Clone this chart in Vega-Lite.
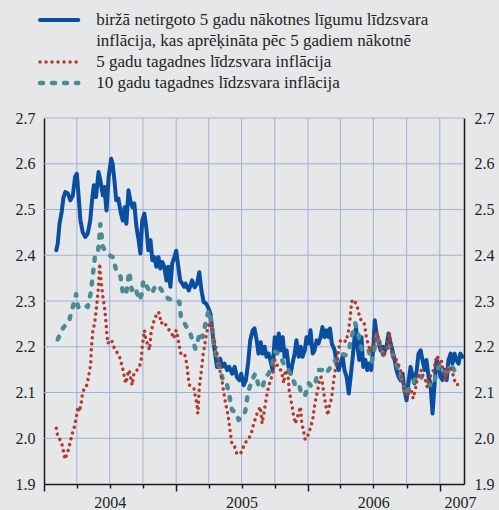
{
  "$schema": "https://vega.github.io/schema/vega-lite/v6.json",
  "width": 420,
  "height": 366,
  "autosize": {"type": "none"},
  "padding": {"left": 44, "top": 118, "right": 35, "bottom": 26},
  "background": "#e6e7e9",
  "config": {
    "view": {"stroke": null},
    "font": "Liberation Serif, Times New Roman, serif",
    "axis": {"labelFont": "Liberation Serif, Times New Roman, serif", "labelFontSize": 16, "labelColor": "#231f20", "domainColor": "#1a1a1a", "domainWidth": 1.5},
    "legend": {"labelFont": "Liberation Serif, Times New Roman, serif", "labelFontSize": 17, "labelColor": "#231f20", "labelLimit": 500, "padding": 0}
  },
  "resolve": {"axis": {"x": "independent", "y": "independent"}},
  "layer": [
    {
      "data": {"values": [{"level": 2.0}, {"level": 2.1}, {"level": 2.2}, {"level": 2.3}, {"level": 2.4}, {"level": 2.5}, {"level": 2.6}, {"level": 2.7}]},
      "mark": {"type": "rule", "color": "#a3aeda", "strokeWidth": 1},
      "encoding": {"y": {"field": "level", "type": "quantitative", "axis": null}}
    },
    {
      "data": {"values": [{"quarter": "2004-04-01"}, {"quarter": "2004-07-01"}, {"quarter": "2004-10-01"}, {"quarter": "2005-01-01"}, {"quarter": "2005-04-01"}, {"quarter": "2005-07-01"}, {"quarter": "2005-10-01"}, {"quarter": "2006-01-01"}, {"quarter": "2006-04-01"}, {"quarter": "2006-07-01"}, {"quarter": "2006-10-01"}, {"quarter": "2007-01-01"}]},
      "mark": {"type": "rule", "color": "#a3aeda", "strokeWidth": 1},
      "encoding": {"x": {"field": "quarter", "type": "temporal", "axis": null}}
    },
    {
      "data": {"values": [
        {"date":"2004-02-04","series":"fwd","value":2.411},{"date":"2004-02-08","series":"fwd","value":2.425},{"date":"2004-02-13","series":"fwd","value":2.469},{"date":"2004-02-19","series":"fwd","value":2.495},{"date":"2004-02-24","series":"fwd","value":2.527},{"date":"2004-02-29","series":"fwd","value":2.538},{"date":"2004-03-07","series":"fwd","value":2.535},{"date":"2004-03-14","series":"fwd","value":2.52},{"date":"2004-03-21","series":"fwd","value":2.531},{"date":"2004-03-27","series":"fwd","value":2.571},{"date":"2004-04-01","series":"fwd","value":2.578},{"date":"2004-04-06","series":"fwd","value":2.527},{"date":"2004-04-11","series":"fwd","value":2.476},{"date":"2004-04-17","series":"fwd","value":2.451},{"date":"2004-04-24","series":"fwd","value":2.44},{"date":"2004-05-01","series":"fwd","value":2.447},{"date":"2004-05-08","series":"fwd","value":2.476},{"date":"2004-05-13","series":"fwd","value":2.52},{"date":"2004-05-18","series":"fwd","value":2.553},{"date":"2004-05-24","series":"fwd","value":2.527},{"date":"2004-05-31","series":"fwd","value":2.582},{"date":"2004-06-05","series":"fwd","value":2.564},{"date":"2004-06-12","series":"fwd","value":2.531},{"date":"2004-06-16","series":"fwd","value":2.549},{"date":"2004-06-22","series":"fwd","value":2.498},{"date":"2004-06-28","series":"fwd","value":2.571},{"date":"2004-07-05","series":"fwd","value":2.611},{"date":"2004-07-09","series":"fwd","value":2.6},{"date":"2004-07-14","series":"fwd","value":2.564},{"date":"2004-07-19","series":"fwd","value":2.52},{"date":"2004-07-25","series":"fwd","value":2.524},{"date":"2004-07-31","series":"fwd","value":2.495},{"date":"2004-08-06","series":"fwd","value":2.476},{"date":"2004-08-11","series":"fwd","value":2.505},{"date":"2004-08-16","series":"fwd","value":2.469},{"date":"2004-08-22","series":"fwd","value":2.542},{"date":"2004-08-27","series":"fwd","value":2.52},{"date":"2004-09-02","series":"fwd","value":2.505},{"date":"2004-09-07","series":"fwd","value":2.513},{"date":"2004-09-13","series":"fwd","value":2.462},{"date":"2004-09-19","series":"fwd","value":2.433},{"date":"2004-09-24","series":"fwd","value":2.404},{"date":"2004-09-29","series":"fwd","value":2.476},{"date":"2004-10-05","series":"fwd","value":2.491},{"date":"2004-10-11","series":"fwd","value":2.455},{"date":"2004-10-16","series":"fwd","value":2.411},{"date":"2004-10-22","series":"fwd","value":2.433},{"date":"2004-10-27","series":"fwd","value":2.389},{"date":"2004-11-02","series":"fwd","value":2.396},{"date":"2004-11-07","series":"fwd","value":2.375},{"date":"2004-11-13","series":"fwd","value":2.396},{"date":"2004-11-18","series":"fwd","value":2.371},{"date":"2004-11-24","series":"fwd","value":2.385},{"date":"2004-11-29","series":"fwd","value":2.375},{"date":"2004-12-05","series":"fwd","value":2.345},{"date":"2004-12-10","series":"fwd","value":2.375},{"date":"2004-12-16","series":"fwd","value":2.331},{"date":"2004-12-21","series":"fwd","value":2.382},{"date":"2004-12-27","series":"fwd","value":2.396},{"date":"2005-01-01","series":"fwd","value":2.41},{"date":"2005-01-07","series":"fwd","value":2.375},{"date":"2005-01-12","series":"fwd","value":2.345},{"date":"2005-01-18","series":"fwd","value":2.338},{"date":"2005-01-23","series":"fwd","value":2.331},{"date":"2005-01-27","series":"fwd","value":2.338},{"date":"2005-02-05","series":"fwd","value":2.323},{"date":"2005-02-14","series":"fwd","value":2.345},{"date":"2005-02-21","series":"fwd","value":2.33},{"date":"2005-02-28","series":"fwd","value":2.338},{"date":"2005-03-06","series":"fwd","value":2.363},{"date":"2005-03-12","series":"fwd","value":2.323},{"date":"2005-03-18","series":"fwd","value":2.298},{"date":"2005-03-25","series":"fwd","value":2.294},{"date":"2005-03-30","series":"fwd","value":2.287},{"date":"2005-04-06","series":"fwd","value":2.272},{"date":"2005-04-10","series":"fwd","value":2.243},{"date":"2005-04-15","series":"fwd","value":2.207},{"date":"2005-04-20","series":"fwd","value":2.178},{"date":"2005-04-24","series":"fwd","value":2.156},{"date":"2005-04-29","series":"fwd","value":2.156},{"date":"2005-05-03","series":"fwd","value":2.174},{"date":"2005-05-08","series":"fwd","value":2.156},{"date":"2005-05-15","series":"fwd","value":2.163},{"date":"2005-05-22","series":"fwd","value":2.149},{"date":"2005-05-28","series":"fwd","value":2.156},{"date":"2005-06-05","series":"fwd","value":2.141},{"date":"2005-06-12","series":"fwd","value":2.156},{"date":"2005-06-18","series":"fwd","value":2.134},{"date":"2005-06-25","series":"fwd","value":2.127},{"date":"2005-06-30","series":"fwd","value":2.141},{"date":"2005-07-07","series":"fwd","value":2.116},{"date":"2005-07-13","series":"fwd","value":2.127},{"date":"2005-07-19","series":"fwd","value":2.163},{"date":"2005-07-25","series":"fwd","value":2.214},{"date":"2005-08-01","series":"fwd","value":2.236},{"date":"2005-08-06","series":"fwd","value":2.24},{"date":"2005-08-12","series":"fwd","value":2.214},{"date":"2005-08-17","series":"fwd","value":2.185},{"date":"2005-08-23","series":"fwd","value":2.21},{"date":"2005-08-28","series":"fwd","value":2.185},{"date":"2005-09-03","series":"fwd","value":2.2},{"date":"2005-09-08","series":"fwd","value":2.178},{"date":"2005-09-14","series":"fwd","value":2.185},{"date":"2005-09-19","series":"fwd","value":2.17},{"date":"2005-09-25","series":"fwd","value":2.149},{"date":"2005-10-01","series":"fwd","value":2.221},{"date":"2005-10-06","series":"fwd","value":2.185},{"date":"2005-10-12","series":"fwd","value":2.229},{"date":"2005-10-17","series":"fwd","value":2.192},{"date":"2005-10-23","series":"fwd","value":2.221},{"date":"2005-10-28","series":"fwd","value":2.178},{"date":"2005-11-03","series":"fwd","value":2.192},{"date":"2005-11-08","series":"fwd","value":2.156},{"date":"2005-11-14","series":"fwd","value":2.141},{"date":"2005-11-19","series":"fwd","value":2.163},{"date":"2005-11-25","series":"fwd","value":2.185},{"date":"2005-11-30","series":"fwd","value":2.214},{"date":"2005-12-06","series":"fwd","value":2.178},{"date":"2005-12-12","series":"fwd","value":2.2},{"date":"2005-12-17","series":"fwd","value":2.178},{"date":"2005-12-23","series":"fwd","value":2.192},{"date":"2005-12-28","series":"fwd","value":2.221},{"date":"2006-01-03","series":"fwd","value":2.207},{"date":"2006-01-08","series":"fwd","value":2.236},{"date":"2006-01-14","series":"fwd","value":2.185},{"date":"2006-01-19","series":"fwd","value":2.192},{"date":"2006-01-25","series":"fwd","value":2.214},{"date":"2006-01-30","series":"fwd","value":2.207},{"date":"2006-02-05","series":"fwd","value":2.221},{"date":"2006-02-10","series":"fwd","value":2.243},{"date":"2006-02-16","series":"fwd","value":2.221},{"date":"2006-02-21","series":"fwd","value":2.236},{"date":"2006-02-27","series":"fwd","value":2.221},{"date":"2006-03-03","series":"fwd","value":2.24},{"date":"2006-03-08","series":"fwd","value":2.207},{"date":"2006-03-16","series":"fwd","value":2.192},{"date":"2006-03-21","series":"fwd","value":2.163},{"date":"2006-03-27","series":"fwd","value":2.149},{"date":"2006-04-01","series":"fwd","value":2.163},{"date":"2006-04-07","series":"fwd","value":2.178},{"date":"2006-04-12","series":"fwd","value":2.149},{"date":"2006-04-18","series":"fwd","value":2.134},{"date":"2006-04-24","series":"fwd","value":2.098},{"date":"2006-04-29","series":"fwd","value":2.134},{"date":"2006-05-05","series":"fwd","value":2.178},{"date":"2006-05-10","series":"fwd","value":2.221},{"date":"2006-05-14","series":"fwd","value":2.243},{"date":"2006-05-18","series":"fwd","value":2.2},{"date":"2006-05-23","series":"fwd","value":2.171},{"date":"2006-05-29","series":"fwd","value":2.221},{"date":"2006-06-03","series":"fwd","value":2.156},{"date":"2006-06-09","series":"fwd","value":2.171},{"date":"2006-06-14","series":"fwd","value":2.149},{"date":"2006-06-20","series":"fwd","value":2.163},{"date":"2006-06-25","series":"fwd","value":2.149},{"date":"2006-07-01","series":"fwd","value":2.2},{"date":"2006-07-05","series":"fwd","value":2.258},{"date":"2006-07-10","series":"fwd","value":2.229},{"date":"2006-07-16","series":"fwd","value":2.207},{"date":"2006-07-21","series":"fwd","value":2.192},{"date":"2006-07-27","series":"fwd","value":2.2},{"date":"2006-08-01","series":"fwd","value":2.189},{"date":"2006-08-07","series":"fwd","value":2.203},{"date":"2006-08-12","series":"fwd","value":2.229},{"date":"2006-08-18","series":"fwd","value":2.207},{"date":"2006-08-23","series":"fwd","value":2.192},{"date":"2006-08-29","series":"fwd","value":2.171},{"date":"2006-09-03","series":"fwd","value":2.149},{"date":"2006-09-09","series":"fwd","value":2.134},{"date":"2006-09-14","series":"fwd","value":2.127},{"date":"2006-09-20","series":"fwd","value":2.141},{"date":"2006-09-25","series":"fwd","value":2.105},{"date":"2006-10-01","series":"fwd","value":2.083},{"date":"2006-10-07","series":"fwd","value":2.127},{"date":"2006-10-12","series":"fwd","value":2.156},{"date":"2006-10-18","series":"fwd","value":2.134},{"date":"2006-10-23","series":"fwd","value":2.12},{"date":"2006-10-29","series":"fwd","value":2.149},{"date":"2006-11-03","series":"fwd","value":2.185},{"date":"2006-11-09","series":"fwd","value":2.192},{"date":"2006-11-14","series":"fwd","value":2.171},{"date":"2006-11-20","series":"fwd","value":2.149},{"date":"2006-11-25","series":"fwd","value":2.171},{"date":"2006-12-01","series":"fwd","value":2.134},{"date":"2006-12-06","series":"fwd","value":2.12},{"date":"2006-12-12","series":"fwd","value":2.054},{"date":"2006-12-17","series":"fwd","value":2.112},{"date":"2006-12-23","series":"fwd","value":2.171},{"date":"2006-12-28","series":"fwd","value":2.163},{"date":"2007-01-03","series":"fwd","value":2.134},{"date":"2007-01-09","series":"fwd","value":2.127},{"date":"2007-01-14","series":"fwd","value":2.149},{"date":"2007-01-20","series":"fwd","value":2.127},{"date":"2007-01-25","series":"fwd","value":2.171},{"date":"2007-01-31","series":"fwd","value":2.185},{"date":"2007-02-05","series":"fwd","value":2.163},{"date":"2007-02-11","series":"fwd","value":2.185},{"date":"2007-02-16","series":"fwd","value":2.171},{"date":"2007-02-22","series":"fwd","value":2.163},{"date":"2007-02-27","series":"fwd","value":2.185},{"date":"2007-03-05","series":"fwd","value":2.178},
        {"date":"2004-02-08","series":"be10","value":2.216},{"date":"2004-02-22","series":"be10","value":2.24},{"date":"2004-03-11","series":"be10","value":2.258},{"date":"2004-03-30","series":"be10","value":2.315},{"date":"2004-04-04","series":"be10","value":2.287},{"date":"2004-04-13","series":"be10","value":2.287},{"date":"2004-04-22","series":"be10","value":2.291},{"date":"2004-05-01","series":"be10","value":2.287},{"date":"2004-05-10","series":"be10","value":2.32},{"date":"2004-05-15","series":"be10","value":2.356},{"date":"2004-05-21","series":"be10","value":2.396},{"date":"2004-05-29","series":"be10","value":2.404},{"date":"2004-06-02","series":"be10","value":2.433},{"date":"2004-06-05","series":"be10","value":2.468},{"date":"2004-06-12","series":"be10","value":2.418},{"date":"2004-06-21","series":"be10","value":2.407},{"date":"2004-06-30","series":"be10","value":2.4},{"date":"2004-07-09","series":"be10","value":2.396},{"date":"2004-07-19","series":"be10","value":2.367},{"date":"2004-07-31","series":"be10","value":2.353},{"date":"2004-08-06","series":"be10","value":2.32},{"date":"2004-08-15","series":"be10","value":2.313},{"date":"2004-08-24","series":"be10","value":2.364},{"date":"2004-08-31","series":"be10","value":2.324},{"date":"2004-09-09","series":"be10","value":2.331},{"date":"2004-09-21","series":"be10","value":2.302},{"date":"2004-09-28","series":"be10","value":2.316},{"date":"2004-10-02","series":"be10","value":2.345},{"date":"2004-10-12","series":"be10","value":2.331},{"date":"2004-10-25","series":"be10","value":2.316},{"date":"2004-11-06","series":"be10","value":2.335},{"date":"2004-11-15","series":"be10","value":2.331},{"date":"2004-11-25","series":"be10","value":2.32},{"date":"2004-12-10","series":"be10","value":2.305},{"date":"2004-12-27","series":"be10","value":2.302},{"date":"2005-01-10","series":"be10","value":2.298},{"date":"2005-01-14","series":"be10","value":2.265},{"date":"2005-01-27","series":"be10","value":2.247},{"date":"2005-02-09","series":"be10","value":2.229},{"date":"2005-02-23","series":"be10","value":2.196},{"date":"2005-03-09","series":"be10","value":2.232},{"date":"2005-03-15","series":"be10","value":2.221},{"date":"2005-03-23","series":"be10","value":2.25},{"date":"2005-04-01","series":"be10","value":2.28},{"date":"2005-04-08","series":"be10","value":2.258},{"date":"2005-04-15","series":"be10","value":2.207},{"date":"2005-04-24","series":"be10","value":2.174},{"date":"2005-05-03","series":"be10","value":2.149},{"date":"2005-05-13","series":"be10","value":2.12},{"date":"2005-05-22","series":"be10","value":2.116},{"date":"2005-05-28","series":"be10","value":2.094},{"date":"2005-06-05","series":"be10","value":2.061},{"date":"2005-06-14","series":"be10","value":2.058},{"date":"2005-06-23","series":"be10","value":2.04},{"date":"2005-07-02","series":"be10","value":2.047},{"date":"2005-07-11","series":"be10","value":2.058},{"date":"2005-07-19","series":"be10","value":2.101},{"date":"2005-07-30","series":"be10","value":2.127},{"date":"2005-08-08","series":"be10","value":2.141},{"date":"2005-08-17","series":"be10","value":2.116},{"date":"2005-08-27","series":"be10","value":2.109},{"date":"2005-09-05","series":"be10","value":2.134},{"date":"2005-09-14","series":"be10","value":2.141},{"date":"2005-09-23","series":"be10","value":2.156},{"date":"2005-10-02","series":"be10","value":2.189},{"date":"2005-10-12","series":"be10","value":2.185},{"date":"2005-10-21","series":"be10","value":2.171},{"date":"2005-10-30","series":"be10","value":2.156},{"date":"2005-11-08","series":"be10","value":2.149},{"date":"2005-11-17","series":"be10","value":2.134},{"date":"2005-11-27","series":"be10","value":2.116},{"date":"2005-12-06","series":"be10","value":2.12},{"date":"2005-12-15","series":"be10","value":2.094},{"date":"2005-12-24","series":"be10","value":2.094},{"date":"2006-01-03","series":"be10","value":2.12},{"date":"2006-01-12","series":"be10","value":2.112},{"date":"2006-01-21","series":"be10","value":2.12},{"date":"2006-01-30","series":"be10","value":2.149},{"date":"2006-02-09","series":"be10","value":2.149},{"date":"2006-02-18","series":"be10","value":2.141},{"date":"2006-02-27","series":"be10","value":2.149},{"date":"2006-03-08","series":"be10","value":2.16},{"date":"2006-03-18","series":"be10","value":2.171},{"date":"2006-03-27","series":"be10","value":2.174},{"date":"2006-04-05","series":"be10","value":2.185},{"date":"2006-04-14","series":"be10","value":2.181},{"date":"2006-04-24","series":"be10","value":2.192},{"date":"2006-05-03","series":"be10","value":2.225},{"date":"2006-05-12","series":"be10","value":2.251},{"date":"2006-05-21","series":"be10","value":2.225},{"date":"2006-05-30","series":"be10","value":2.192},{"date":"2006-06-09","series":"be10","value":2.196},{"date":"2006-06-18","series":"be10","value":2.192},{"date":"2006-06-27","series":"be10","value":2.167},{"date":"2006-07-05","series":"be10","value":2.2},{"date":"2006-07-11","series":"be10","value":2.229},{"date":"2006-07-20","series":"be10","value":2.203},{"date":"2006-07-29","series":"be10","value":2.181},{"date":"2006-08-08","series":"be10","value":2.196},{"date":"2006-08-17","series":"be10","value":2.203},{"date":"2006-08-26","series":"be10","value":2.174},{"date":"2006-09-04","series":"be10","value":2.16},{"date":"2006-09-13","series":"be10","value":2.141},{"date":"2006-09-23","series":"be10","value":2.112},{"date":"2006-10-02","series":"be10","value":2.094},{"date":"2006-10-11","series":"be10","value":2.116},{"date":"2006-10-20","series":"be10","value":2.12},{"date":"2006-10-30","series":"be10","value":2.141},{"date":"2006-11-08","series":"be10","value":2.134},{"date":"2006-11-17","series":"be10","value":2.131},{"date":"2006-11-26","series":"be10","value":2.127},{"date":"2006-12-05","series":"be10","value":2.116},{"date":"2006-12-15","series":"be10","value":2.116},{"date":"2006-12-24","series":"be10","value":2.149},{"date":"2007-01-02","series":"be10","value":2.16},{"date":"2007-01-11","series":"be10","value":2.149},{"date":"2007-01-21","series":"be10","value":2.134},{"date":"2007-01-30","series":"be10","value":2.163},{"date":"2007-02-08","series":"be10","value":2.152},{"date":"2007-02-17","series":"be10","value":2.138},{"date":"2007-02-26","series":"be10","value":2.138},
        {"date":"2004-02-04","series":"be5","value":2.022},{"date":"2004-02-08","series":"be5","value":2.004},{"date":"2004-02-15","series":"be5","value":1.996},{"date":"2004-02-19","series":"be5","value":1.989},{"date":"2004-02-24","series":"be5","value":1.971},{"date":"2004-02-28","series":"be5","value":1.954},{"date":"2004-03-07","series":"be5","value":1.971},{"date":"2004-03-13","series":"be5","value":1.989},{"date":"2004-03-18","series":"be5","value":2.007},{"date":"2004-03-25","series":"be5","value":2.025},{"date":"2004-03-30","series":"be5","value":2.044},{"date":"2004-04-04","series":"be5","value":2.069},{"date":"2004-04-08","series":"be5","value":2.058},{"date":"2004-04-13","series":"be5","value":2.076},{"date":"2004-04-16","series":"be5","value":2.095},{"date":"2004-04-21","series":"be5","value":2.109},{"date":"2004-04-27","series":"be5","value":2.112},{"date":"2004-05-01","series":"be5","value":2.125},{"date":"2004-05-05","series":"be5","value":2.142},{"date":"2004-05-09","series":"be5","value":2.16},{"date":"2004-05-11","series":"be5","value":2.196},{"date":"2004-05-15","series":"be5","value":2.233},{"date":"2004-05-20","series":"be5","value":2.251},{"date":"2004-05-23","series":"be5","value":2.269},{"date":"2004-05-26","series":"be5","value":2.291},{"date":"2004-05-29","series":"be5","value":2.315},{"date":"2004-06-01","series":"be5","value":2.345},{"date":"2004-06-03","series":"be5","value":2.382},{"date":"2004-06-05","series":"be5","value":2.36},{"date":"2004-06-09","series":"be5","value":2.33},{"date":"2004-06-13","series":"be5","value":2.305},{"date":"2004-06-16","series":"be5","value":2.29},{"date":"2004-06-20","series":"be5","value":2.262},{"date":"2004-06-23","series":"be5","value":2.228},{"date":"2004-06-26","series":"be5","value":2.207},{"date":"2004-07-01","series":"be5","value":2.215},{"date":"2004-07-07","series":"be5","value":2.212},{"date":"2004-07-12","series":"be5","value":2.2},{"date":"2004-07-18","series":"be5","value":2.193},{"date":"2004-07-23","series":"be5","value":2.185},{"date":"2004-07-29","series":"be5","value":2.176},{"date":"2004-08-02","series":"be5","value":2.164},{"date":"2004-08-07","series":"be5","value":2.149},{"date":"2004-08-11","series":"be5","value":2.131},{"date":"2004-08-15","series":"be5","value":2.12},{"date":"2004-08-20","series":"be5","value":2.14},{"date":"2004-08-24","series":"be5","value":2.149},{"date":"2004-08-27","series":"be5","value":2.135},{"date":"2004-09-01","series":"be5","value":2.116},{"date":"2004-09-06","series":"be5","value":2.142},{"date":"2004-09-12","series":"be5","value":2.145},{"date":"2004-09-17","series":"be5","value":2.153},{"date":"2004-09-21","series":"be5","value":2.156},{"date":"2004-09-26","series":"be5","value":2.171},{"date":"2004-09-29","series":"be5","value":2.2},{"date":"2004-10-02","series":"be5","value":2.218},{"date":"2004-10-05","series":"be5","value":2.236},{"date":"2004-10-10","series":"be5","value":2.211},{"date":"2004-10-14","series":"be5","value":2.207},{"date":"2004-10-19","series":"be5","value":2.193},{"date":"2004-10-23","series":"be5","value":2.228},{"date":"2004-10-28","series":"be5","value":2.247},{"date":"2004-11-03","series":"be5","value":2.262},{"date":"2004-11-11","series":"be5","value":2.276},{"date":"2004-11-16","series":"be5","value":2.273},{"date":"2004-11-20","series":"be5","value":2.251},{"date":"2004-11-27","series":"be5","value":2.255},{"date":"2004-12-04","series":"be5","value":2.247},{"date":"2004-12-13","series":"be5","value":2.236},{"date":"2004-12-20","series":"be5","value":2.229},{"date":"2004-12-25","series":"be5","value":2.218},{"date":"2005-01-01","series":"be5","value":2.236},{"date":"2005-01-05","series":"be5","value":2.222},{"date":"2005-01-10","series":"be5","value":2.2},{"date":"2005-01-14","series":"be5","value":2.185},{"date":"2005-01-24","series":"be5","value":2.185},{"date":"2005-01-27","series":"be5","value":2.175},{"date":"2005-01-31","series":"be5","value":2.16},{"date":"2005-02-03","series":"be5","value":2.134},{"date":"2005-02-07","series":"be5","value":2.116},{"date":"2005-02-14","series":"be5","value":2.112},{"date":"2005-02-19","series":"be5","value":2.109},{"date":"2005-02-23","series":"be5","value":2.091},{"date":"2005-02-28","series":"be5","value":2.072},{"date":"2005-03-02","series":"be5","value":2.054},{"date":"2005-03-06","series":"be5","value":2.112},{"date":"2005-03-12","series":"be5","value":2.149},{"date":"2005-03-16","series":"be5","value":2.18},{"date":"2005-03-21","series":"be5","value":2.203},{"date":"2005-03-25","series":"be5","value":2.225},{"date":"2005-03-29","series":"be5","value":2.24},{"date":"2005-04-03","series":"be5","value":2.251},{"date":"2005-04-08","series":"be5","value":2.254},{"date":"2005-04-15","series":"be5","value":2.218},{"date":"2005-04-20","series":"be5","value":2.203},{"date":"2005-04-24","series":"be5","value":2.185},{"date":"2005-04-29","series":"be5","value":2.167},{"date":"2005-05-03","series":"be5","value":2.145},{"date":"2005-05-08","series":"be5","value":2.127},{"date":"2005-05-13","series":"be5","value":2.098},{"date":"2005-05-17","series":"be5","value":2.08},{"date":"2005-05-22","series":"be5","value":2.061},{"date":"2005-05-26","series":"be5","value":2.043},{"date":"2005-05-29","series":"be5","value":2.025},{"date":"2005-06-01","series":"be5","value":2.007},{"date":"2005-06-05","series":"be5","value":1.985},{"date":"2005-06-12","series":"be5","value":1.981},{"date":"2005-06-18","series":"be5","value":1.966},{"date":"2005-06-26","series":"be5","value":1.965},{"date":"2005-07-02","series":"be5","value":1.971},{"date":"2005-07-10","series":"be5","value":1.989},{"date":"2005-07-21","series":"be5","value":1.999},{"date":"2005-07-28","series":"be5","value":2.011},{"date":"2005-08-03","series":"be5","value":2.029},{"date":"2005-08-10","series":"be5","value":2.047},{"date":"2005-08-15","series":"be5","value":2.058},{"date":"2005-08-22","series":"be5","value":2.069},{"date":"2005-08-27","series":"be5","value":2.032},{"date":"2005-08-31","series":"be5","value":2.05},{"date":"2005-09-05","series":"be5","value":2.076},{"date":"2005-09-09","series":"be5","value":2.094},{"date":"2005-09-14","series":"be5","value":2.112},{"date":"2005-09-19","series":"be5","value":2.127},{"date":"2005-09-25","series":"be5","value":2.138},{"date":"2005-10-01","series":"be5","value":2.171},{"date":"2005-10-07","series":"be5","value":2.16},{"date":"2005-10-14","series":"be5","value":2.156},{"date":"2005-10-21","series":"be5","value":2.141},{"date":"2005-10-26","series":"be5","value":2.12},{"date":"2005-10-30","series":"be5","value":2.149},{"date":"2005-11-07","series":"be5","value":2.134},{"date":"2005-11-10","series":"be5","value":2.105},{"date":"2005-11-14","series":"be5","value":2.087},{"date":"2005-11-18","series":"be5","value":2.069},{"date":"2005-11-22","series":"be5","value":2.05},{"date":"2005-11-27","series":"be5","value":2.032},{"date":"2005-12-04","series":"be5","value":2.05},{"date":"2005-12-11","series":"be5","value":2.069},{"date":"2005-12-15","series":"be5","value":2.032},{"date":"2005-12-20","series":"be5","value":2.014},{"date":"2005-12-24","series":"be5","value":1.997},{"date":"2006-01-01","series":"be5","value":2.007},{"date":"2006-01-07","series":"be5","value":2.021},{"date":"2006-01-14","series":"be5","value":2.04},{"date":"2006-01-19","series":"be5","value":2.069},{"date":"2006-01-23","series":"be5","value":2.087},{"date":"2006-01-28","series":"be5","value":2.105},{"date":"2006-02-01","series":"be5","value":2.123},{"date":"2006-02-06","series":"be5","value":2.134},{"date":"2006-02-10","series":"be5","value":2.12},{"date":"2006-02-16","series":"be5","value":2.087},{"date":"2006-02-20","series":"be5","value":2.069},{"date":"2006-02-25","series":"be5","value":2.05},{"date":"2006-03-01","series":"be5","value":2.069},{"date":"2006-03-07","series":"be5","value":2.087},{"date":"2006-03-10","series":"be5","value":2.105},{"date":"2006-03-15","series":"be5","value":2.138},{"date":"2006-03-20","series":"be5","value":2.16},{"date":"2006-03-27","series":"be5","value":2.193},{"date":"2006-04-01","series":"be5","value":2.214},{"date":"2006-04-07","series":"be5","value":2.216},{"date":"2006-04-16","series":"be5","value":2.211},{"date":"2006-04-22","series":"be5","value":2.229},{"date":"2006-04-25","series":"be5","value":2.247},{"date":"2006-04-28","series":"be5","value":2.265},{"date":"2006-04-30","series":"be5","value":2.283},{"date":"2006-05-03","series":"be5","value":2.301},{"date":"2006-05-08","series":"be5","value":2.303},{"date":"2006-05-14","series":"be5","value":2.294},{"date":"2006-05-19","series":"be5","value":2.283},{"date":"2006-05-25","series":"be5","value":2.261},{"date":"2006-05-30","series":"be5","value":2.258},{"date":"2006-06-05","series":"be5","value":2.254},{"date":"2006-06-09","series":"be5","value":2.236},{"date":"2006-06-12","series":"be5","value":2.218},{"date":"2006-06-18","series":"be5","value":2.203},{"date":"2006-06-23","series":"be5","value":2.189},{"date":"2006-06-29","series":"be5","value":2.2},{"date":"2006-07-05","series":"be5","value":2.214},{"date":"2006-07-11","series":"be5","value":2.232},{"date":"2006-07-17","series":"be5","value":2.211},{"date":"2006-07-23","series":"be5","value":2.192},{"date":"2006-07-29","series":"be5","value":2.178},{"date":"2006-08-05","series":"be5","value":2.192},{"date":"2006-08-10","series":"be5","value":2.211},{"date":"2006-08-14","series":"be5","value":2.232},{"date":"2006-08-18","series":"be5","value":2.211},{"date":"2006-08-21","series":"be5","value":2.185},{"date":"2006-08-27","series":"be5","value":2.171},{"date":"2006-09-01","series":"be5","value":2.174},{"date":"2006-09-09","series":"be5","value":2.16},{"date":"2006-09-14","series":"be5","value":2.149},{"date":"2006-09-20","series":"be5","value":2.123},{"date":"2006-09-25","series":"be5","value":2.105},{"date":"2006-10-02","series":"be5","value":2.091},{"date":"2006-10-08","series":"be5","value":2.101},{"date":"2006-10-14","series":"be5","value":2.105},{"date":"2006-10-19","series":"be5","value":2.087},{"date":"2006-10-25","series":"be5","value":2.105},{"date":"2006-10-30","series":"be5","value":2.127},{"date":"2006-11-05","series":"be5","value":2.141},{"date":"2006-11-11","series":"be5","value":2.149},{"date":"2006-11-16","series":"be5","value":2.134},{"date":"2006-11-22","series":"be5","value":2.127},{"date":"2006-11-27","series":"be5","value":2.112},{"date":"2006-12-03","series":"be5","value":2.127},{"date":"2006-12-08","series":"be5","value":2.141},{"date":"2006-12-15","series":"be5","value":2.149},{"date":"2006-12-19","series":"be5","value":2.163},{"date":"2006-12-25","series":"be5","value":2.181},{"date":"2006-12-30","series":"be5","value":2.163},{"date":"2007-01-05","series":"be5","value":2.171},{"date":"2007-01-10","series":"be5","value":2.149},{"date":"2007-01-16","series":"be5","value":2.127},{"date":"2007-01-21","series":"be5","value":2.149},{"date":"2007-01-27","series":"be5","value":2.156},{"date":"2007-02-01","series":"be5","value":2.152},{"date":"2007-02-07","series":"be5","value":2.138},{"date":"2007-02-13","series":"be5","value":2.12},{"date":"2007-02-18","series":"be5","value":2.12},{"date":"2007-02-24","series":"be5","value":2.105}
      ]},
      "encoding": {
        "x": {
          "field": "date", "type": "temporal",
          "scale": {"type": "utc", "domain": [{"year": 2004, "month": 1, "date": 1, "utc": true}, {"year": 2007, "month": 3, "date": 9, "utc": true}]},
          "axis": {
            "title": null, "orient": "bottom",
            "values": [
              {"year": 2004, "month": 1, "date": 1, "utc": true},
              {"year": 2004, "month": 4, "date": 1, "utc": true},
              {"year": 2004, "month": 7, "date": 1, "utc": true},
              {"year": 2004, "month": 10, "date": 1, "utc": true},
              {"year": 2005, "month": 1, "date": 1, "utc": true},
              {"year": 2005, "month": 4, "date": 1, "utc": true},
              {"year": 2005, "month": 7, "date": 1, "utc": true},
              {"year": 2005, "month": 10, "date": 1, "utc": true},
              {"year": 2006, "month": 1, "date": 1, "utc": true},
              {"year": 2006, "month": 4, "date": 1, "utc": true},
              {"year": 2006, "month": 7, "date": 1, "utc": true},
              {"year": 2006, "month": 10, "date": 1, "utc": true},
              {"year": 2007, "month": 1, "date": 1, "utc": true}
            ],
            "labels": false, "grid": false,
            "ticks": true, "tickColor": "#1a1a1a", "tickWidth": 1.5,
            "tickSize": {"condition": {"test": "utcmonth(datum.value) == 0", "value": 7}, "value": 4}
          }
        },
        "y": {
          "field": "value", "type": "quantitative",
          "scale": {"domain": [1.9, 2.7], "nice": false, "zero": false},
          "axis": {
            "title": null, "orient": "left",
            "values": [1.9, 2.0, 2.1, 2.2, 2.3, 2.4, 2.5, 2.6, 2.7], "format": ".1f",
            "grid": false, "ticks": false, "labelPadding": 9
          }
        },
        "color": {
          "field": "series", "type": "nominal",
          "scale": {"domain": ["fwd", "fwd2", "be5", "be10"], "range": ["#0a4f9f", "rgba(0,0,0,0)", "#b23a2f", "#4b8b95"]},
          "legend": {
            "title": null, "orient": "none", "legendX": 6.65, "legendY": -106.5,
            "labelExpr": "datum.value == 'fwd' ? 'biržā netirgoto 5 gadu nākotnes līgumu līdzsvara' : datum.value == 'fwd2' ? 'inflācija, kas aprēķināta pēc 5 gadiem nākotnē' : datum.value == 'be5' ? '5 gadu tagadnes līdzsvara inflācija' : '10 gadu tagadnes līdzsvara inflācija'",
            "symbolType": "M-1.85,0H1.85", "symbolSize": 428, "labelOffset": 28.5, "rowPadding": 3,
            "encode": {"symbols": {"update": {
              "strokeCap": {"value": "round"},
              "strokeWidth": {"signal": "datum.value == 'fwd' ? 4 : datum.value == 'be5' ? 3.5 : datum.value == 'be10' ? 4.5 : 0"},
              "strokeDash": {"signal": "datum.value == 'be5' ? [0.01, 6] : datum.value == 'be10' ? [3, 9] : [1, 0]"}
            }}}
          }
        },
        "strokeDash": {
          "field": "series", "type": "nominal",
          "scale": {"domain": ["fwd", "fwd2", "be5", "be10"], "range": [[1, 0], [1, 0], [0.01, 6], [3, 9]]},
          "legend": null
        }
      },
      "layer": [
        {"transform": [{"filter": "datum.series == 'fwd'"}], "mark": {"type": "line", "strokeWidth": 4, "strokeCap": "round", "strokeJoin": "round"}},
        {"transform": [{"filter": "datum.series == 'be10'"}], "mark": {"type": "line", "strokeWidth": 4.5, "strokeCap": "round", "strokeJoin": "round"}},
        {"transform": [{"filter": "datum.series == 'be5'"}], "mark": {"type": "line", "strokeWidth": 3.5, "strokeCap": "round", "strokeJoin": "round"}}
      ]
    },
    {
      "data": {"values": [{}]},
      "mark": {"type": "rule", "opacity": 0},
      "encoding": {
        "x": {
          "datum": {"year": 2007, "month": 1, "date": 1, "utc": true}, "type": "temporal",
          "axis": {
            "title": null, "orient": "bottom",
            "values": [
              {"year": 2004, "month": 7, "date": 1, "utc": true},
              {"year": 2005, "month": 7, "date": 1, "utc": true},
              {"year": 2006, "month": 7, "date": 1, "utc": true},
              {"year": 2007, "month": 2, "date": 26, "utc": true}
            ],
            "labelExpr": "utcFormat(datum.value, '%Y')",
            "grid": false, "ticks": false, "domain": false,
            "labelPadding": 10, "labelFlush": false, "labelOverlap": false, "labelBound": false
          }
        },
        "y": {
          "datum": 2.7, "type": "quantitative",
          "axis": {
            "title": null, "orient": "right",
            "values": [1.9, 2.0, 2.1, 2.2, 2.3, 2.4, 2.5, 2.6, 2.7], "format": ".1f",
            "grid": false, "ticks": false, "labelPadding": 10
          }
        }
      }
    }
  ]
}
